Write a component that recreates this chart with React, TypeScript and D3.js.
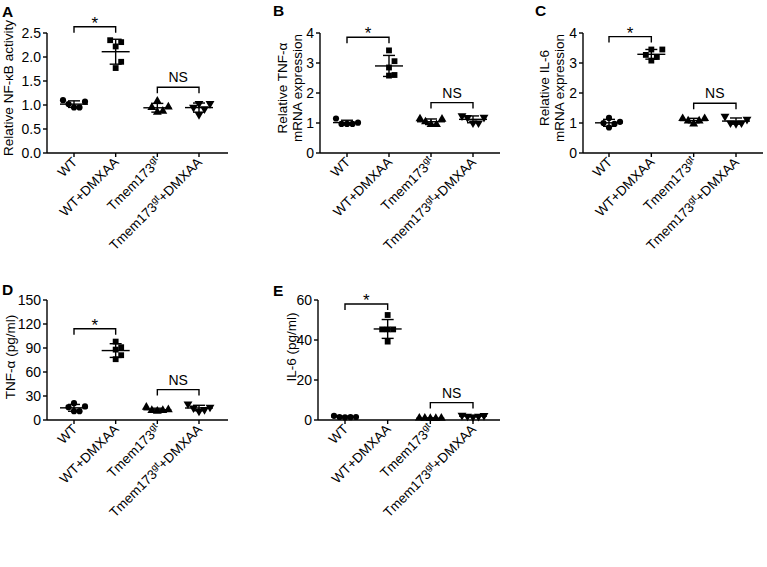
import React from 'react'
import {scaleLinear, scalePoint, symbol, symbolCircle, symbolSquare, symbolTriangle, mean, deviation} from 'd3';

// groups on every panel (same order, left to right)
const groups = ['WT', 'WT+DMXAA', 'Tmem173gt', 'Tmem173gt+DMXAA'];

// A: relative NF-kB activity
const nfkbValues = [
    [1.02, 0.95, 1.10, 0.95, 1.07],
    [2.31, 1.77, 2.22, 1.90, 2.35],
    [0.87, 0.95, 1.08, 0.85, 0.96],
    [0.95, 1.03, 0.80, 1.03, 0.92],
];
const nfkbTicks = [0, 0.5, 1.0, 1.5, 2.0, 2.5];

// B: relative TNF-a mRNA
const tnfMrnaValues = [
    [1.15, 0.97, 0.97, 0.97, 1.01],
    [2.58, 3.06, 3.42, 2.60, 2.85],
    [1.14, 1.04, 0.95, 0.95, 1.13],
    [1.18, 1.00, 1.24, 1.00, 1.19],
];
const mrnaTicks = [0, 1, 2, 3, 4];

// C: relative IL-6 mRNA
const il6MrnaValues = [
    [1.00, 0.85, 1.17, 0.97, 1.04],
    [3.27, 3.45, 3.08, 3.45, 3.20],
    [1.15, 1.07, 0.97, 1.07, 1.15],
    [1.22, 1.00, 0.98, 1.00, 1.12],
];

// D: TNF-a protein (pg/ml)
const tnfValues = [
    [16, 11, 21, 11, 17],
    [91, 76, 98, 81, 88],
    [16, 11, 12, 12, 13],
    [13, 11, 20, 16, 15],
];
const tnfTicks = [0, 30, 60, 90, 120, 150];

// E: IL-6 protein (pg/ml)
const il6Values = [
    [2.1, 1.5, 1.3, 1.4, 1.5],
    [45.3, 52.5, 45.3, 39.2, 45.3],
    [0.8, 0.9, 1.0, 0.8, 0.9],
    [2.2, 1.5, 1.8, 1.9, 2.3],
];
const il6Ticks = [0, 20, 40, 60];

// significance bracket heights (data units): [star, NS]
const bracketA = [2.63, 1.37];
const bracketB = [3.86, 1.68];
const bracketC = [3.88, 1.66];
const bracketD = [114, 38];
const bracketE = [58, 8.7];

const FONT = '"Liberation Sans", Arial, Helvetica, sans-serif';
const symbolTypes = [symbolCircle, symbolSquare, symbolTriangle, symbolTriangle];
const symbolSizes = [30, 34, 34, 34];

// simple beeswarm: spread points whose rows would overlap
function swarm(vals, y, cx) {
    const rowH = 8, step = 5.5;
    const order = vals.map((v, i) => i).sort((a, b) => vals[a] - vals[b]);
    const placed = [];
    const out = [];
    order.forEach(i => {
        const py = y(vals[i]);
        for (const k of [0, 1, -1, 2, -2, 3, -3, 4, -4]) {
            const px = cx + k * step;
            if (placed.every(p => Math.abs(p[0] - px) >= step - 0.1 || Math.abs(p[1] - py) >= rowH)) {
                placed.push([px, py]);
                out.push([px, py]);
                break;
            }
        }
    });
    return out;
}

function GroupLabel({name}) {
    if (name.startsWith('Tmem173gt')) {
        const rest = name.slice('Tmem173gt'.length);
        return (
            <>
                <tspan>Tmem173</tspan>
                <tspan fontSize={9.5} dy={-5}>gt</tspan>
                {rest && <tspan dy={5}>{rest}</tspan>}
            </>
        );
    }
    return <>{name}</>;
}

function Panel({letter, letterPos, values, domain, ticks, fmt, yLabel, labelPos, brackets, box}) {
    const y = scaleLinear().domain(domain).range([box.yBot, box.yTop]);
    const x = scalePoint().domain(groups).range([box.t0, box.t3]);
    const sw = 1.4;

    return (
        <g fontFamily={FONT}>
            <text x={letterPos[0]} y={letterPos[1]} fontSize={15.5} fontWeight="bold">{letter}</text>

            {/* y label */}
            <text transform={`translate(${labelPos[0]},${labelPos[1]}) rotate(-90)`} textAnchor="middle" fontSize={13.5}>
                {yLabel.map((l, i) => <tspan key={i} x={0} dy={i === 0 ? 0 : 14.5}>{l}</tspan>)}
            </text>

            {/* axes */}
            <line x1={box.x0} x2={box.x0} y1={box.yTop} y2={box.yBot} stroke="#000" strokeWidth={sw}/>
            <line x1={box.x0} x2={box.x1} y1={box.yBot} y2={box.yBot} stroke="#000" strokeWidth={sw}/>
            {ticks.map(t => (
                <g key={t}>
                    <line x1={box.x0 - 4} x2={box.x0} y1={y(t)} y2={y(t)} stroke="#000" strokeWidth={sw}/>
                    <text x={box.x0 - 6} y={y(t)} dy="0.36em" textAnchor="end" fontSize={14}>{fmt(t)}</text>
                </g>
            ))}
            {groups.map(g => (
                <g key={g}>
                    <line x1={x(g)} x2={x(g)} y1={box.yBot} y2={box.yBot + 4} stroke="#000" strokeWidth={sw}/>
                    <text transform={`translate(${x(g) + 4},${box.yBot + 10}) rotate(-45)`} textAnchor="end" fontSize={13.5}>
                        <GroupLabel name={g}/>
                    </text>
                </g>
            ))}

            {/* points + mean +- SD */}
            {groups.map((g, gi) => {
                const vals = values[gi];
                const m = mean(vals), sd = deviation(vals);
                const cx = x(g);
                const pts = swarm(vals, y, cx);
                const path = symbol(symbolTypes[gi], symbolSizes[gi])();
                return (
                    <g key={g}>
                        {pts.map((p, i) => (
                            <path key={i} d={path}
                                  transform={`translate(${p[0]},${p[1]})${gi === 3 ? ' rotate(180)' : ''}`}
                                  fill="#000"/>
                        ))}
                        <line x1={cx - 14} x2={cx + 14} y1={y(m)} y2={y(m)} stroke="#000" strokeWidth={sw}/>
                        <line x1={cx} x2={cx} y1={y(m + sd)} y2={y(m - sd)} stroke="#000" strokeWidth={sw}/>
                        <line x1={cx - 6} x2={cx + 6} y1={y(m + sd)} y2={y(m + sd)} stroke="#000" strokeWidth={sw}/>
                        <line x1={cx - 6} x2={cx + 6} y1={y(m - sd)} y2={y(m - sd)} stroke="#000" strokeWidth={sw}/>
                    </g>
                );
            })}

            {/* brackets */}
            {[[0, 1, '*'], [2, 3, 'NS']].map(([a, b, lab], i) => {
                const by = y(brackets[i]);
                const xa = x(groups[a]), xb = x(groups[b]);
                return (
                    <g key={lab}>
                        <path d={`M${xa},${by + 6}V${by}H${xb}V${by + 6}`} fill="none" stroke="#000" strokeWidth={sw}/>
                        <text x={(xa + xb) / 2} y={lab === '*' ? by + 2 : by - 5} textAnchor="middle"
                              fontSize={lab === '*' ? 17 : 14}>{lab}</text>
                    </g>
                );
            })}
        </g>
    );
}

const f1 = t => t.toFixed(1);
const f0 = t => String(t);

export default function App() {
    return (
        <svg width={767} height={567} style={{position: 'absolute', left: 0, top: 0, background: '#fff'}}>
            <rect width={767} height={567} fill="#fff"/>
            <Panel letter="A" letterPos={[2, 17]} values={nfkbValues} domain={[0, 2.5]} ticks={nfkbTicks} fmt={f1}
                   yLabel={['Relative NF-κB activity']} labelPos={[13, 88]} brackets={bracketA}
                   box={{x0: 47, x1: 228, yTop: 33, yBot: 153, t0: 74, t3: 199}}/>
            <Panel letter="B" letterPos={[273, 16]} values={tnfMrnaValues} domain={[0, 4]} ticks={mrnaTicks} fmt={f0}
                   yLabel={['Relative TNF-α', 'mRNA expression']} labelPos={[287, 88]} brackets={bracketB}
                   box={{x0: 320, x1: 500, yTop: 33, yBot: 153, t0: 347, t3: 473}}/>
            <Panel letter="C" letterPos={[535, 16]} values={il6MrnaValues} domain={[0, 4]} ticks={mrnaTicks} fmt={f0}
                   yLabel={['Relative IL-6', 'mRNA expression']} labelPos={[549, 88]} brackets={bracketC}
                   box={{x0: 583, x1: 763, yTop: 33, yBot: 153, t0: 609, t3: 736}}/>
            <Panel letter="D" letterPos={[2, 295]} values={tnfValues} domain={[0, 150]} ticks={tnfTicks} fmt={f0}
                   yLabel={['TNF-α (pg/ml)']} labelPos={[15, 357]} brackets={bracketD}
                   box={{x0: 47, x1: 228, yTop: 300, yBot: 420, t0: 74, t3: 199}}/>
            <Panel letter="E" letterPos={[273, 296]} values={il6Values} domain={[0, 60]} ticks={il6Ticks} fmt={f0}
                   yLabel={['IL-6 (pg/ml)']} labelPos={[296, 347]} brackets={bracketE}
                   box={{x0: 318, x1: 500, yTop: 300, yBot: 420, t0: 345, t3: 473}}/>
        </svg>
    );
}
